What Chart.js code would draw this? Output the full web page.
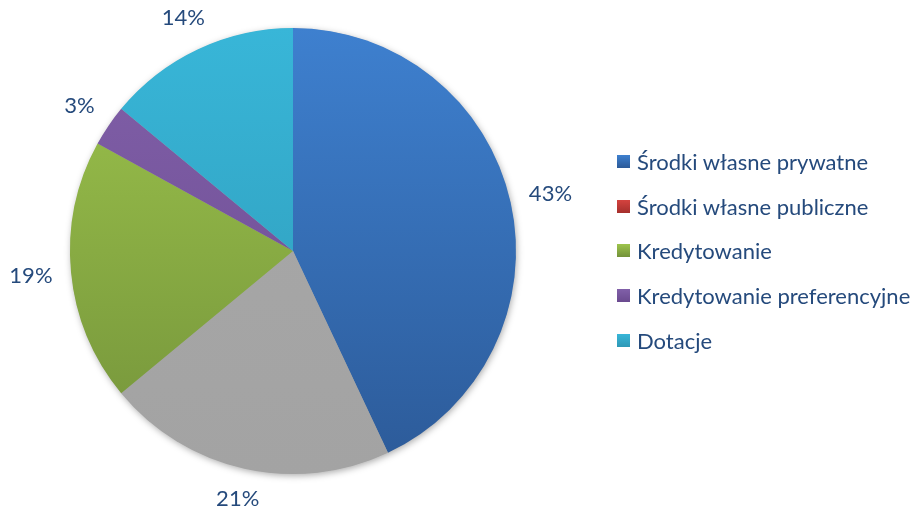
<!DOCTYPE html>
<html lang="pl">
<head>
<meta charset="utf-8">
<title>Struktura finansowania</title>
<script src="https://cdn.jsdelivr.net/npm/chart.js@4/dist/chart.umd.min.js"></script>
<style>
    html, body { margin: 0; padding: 0; background: #fff; }
    .wrap { position: relative; width: 915px; height: 507px; }
    .wrap canvas { position: absolute; left: 0; top: 0; }
    .legend { position: absolute; left: 617px; top: 139px; margin: 0; padding: 0; list-style: none; font-family: Lato, sans-serif; font-size: 22px; color: #254a7c; }
    .legend li { height: 44.7px; display: flex; align-items: center; white-space: nowrap; }
    .legend .swatch { width: 13px; height: 13px; margin-right: 7px; flex: none; }
</style>
</head>
<body>
<div class="wrap">
    <canvas id="pie" width="915" height="507"></canvas>
    <ul class="legend" id="legend"></ul>
</div>
<script>
// Udział źródeł finansowania (%), kolejność zgodnie z ruchem wskazówek od godziny 12
const labels = ['Środki własne prywatne', 'Środki własne publiczne', 'Inne', 'Kredytowanie', 'Kredytowanie preferencyjne', 'Dotacje'];
const values = [43, 0, 21, 19, 3, 14];
const inLegend = [true, true, false, true, true, true];

// gradient kolorów: góra -> dół koła
const topColors = ['#3e80cf', '#d4433f', '#a8a8a8', '#9dc44c', '#8160a9', '#38b6d8'];
const bottomColors = ['#2c5a98', '#a52f2c', '#a3a3a3', '#73923a', '#6a4a8f', '#2e98b6'];

const LABEL_COLOR = '#254a7c';
const LABEL_FONT = '22px Lato, sans-serif';

function sliceFill(ctx) {
    const i = ctx.dataIndex;
    const area = ctx.chart.chartArea;
    if (!area) return topColors[i];
    const g = ctx.chart.ctx.createLinearGradient(0, area.top, 0, area.bottom);
    g.addColorStop(0, topColors[i]);
    g.addColorStop(1, bottomColors[i]);
    return g;
}

// miękki cień pod całym kołem
const pieShadow = {
    id: 'pieShadow',
    beforeDatasetsDraw(chart) {
        const arc = chart.getDatasetMeta(0).data[0];
        if (!arc) return;
        const c = chart.ctx;
        c.save();
        c.shadowColor = 'rgba(0,0,0,0.35)';
        c.shadowBlur = 7;
        c.shadowOffsetX = 1;
        c.shadowOffsetY = 2;
        c.fillStyle = '#a5a5a5';
        c.beginPath();
        c.arc(arc.x, arc.y, arc.outerRadius - 0.5, 0, Math.PI * 2);
        c.fill();
        c.restore();
    }
};

// etykiety procentowe na zewnątrz wycinków
const outsideLabels = {
    id: 'outsideLabels',
    afterDatasetsDraw(chart) {
        const c = chart.ctx;
        const meta = chart.getDatasetMeta(0);
        c.save();
        c.font = LABEL_FONT;
        c.fillStyle = LABEL_COLOR;
        c.textAlign = 'center';
        c.textBaseline = 'middle';
        meta.data.forEach((arc, i) => {
            const v = values[i];
            if (!v) return;
            const text = v + '%';
            const mid = (arc.startAngle + arc.endAngle) / 2;
            const cos = Math.cos(mid), sin = Math.sin(mid);
            const hw = c.measureText(text).width / 2;
            const hh = 8;
            const dist = arc.outerRadius + 18 + Math.abs(cos) * hw + Math.abs(sin) * hh;
            c.fillText(text, arc.x + cos * dist, arc.y + sin * dist);
        });
        c.restore();
    }
};

new Chart(document.getElementById('pie'), {
    type: 'pie',
    data: {
        labels: labels,
        datasets: [{
            data: values,
            backgroundColor: sliceFill,
            borderWidth: 0,
        }]
    },
    options: {
        responsive: false,
        animation: false,
        layout: { padding: { left: 70, top: 28, right: 399, bottom: 33 } },
        plugins: {
            legend: { display: false },
            tooltip: { enabled: false },
        },
    },
    plugins: [pieShadow, outsideLabels],
});

// legenda
document.getElementById('legend').innerHTML = labels.map((name, i) => inLegend[i] ? `
    <li><span class="swatch" style="background:linear-gradient(${topColors[i]}, ${bottomColors[i]})"></span>${name}</li>
` : '').join('');
</script>
</body>
</html>
